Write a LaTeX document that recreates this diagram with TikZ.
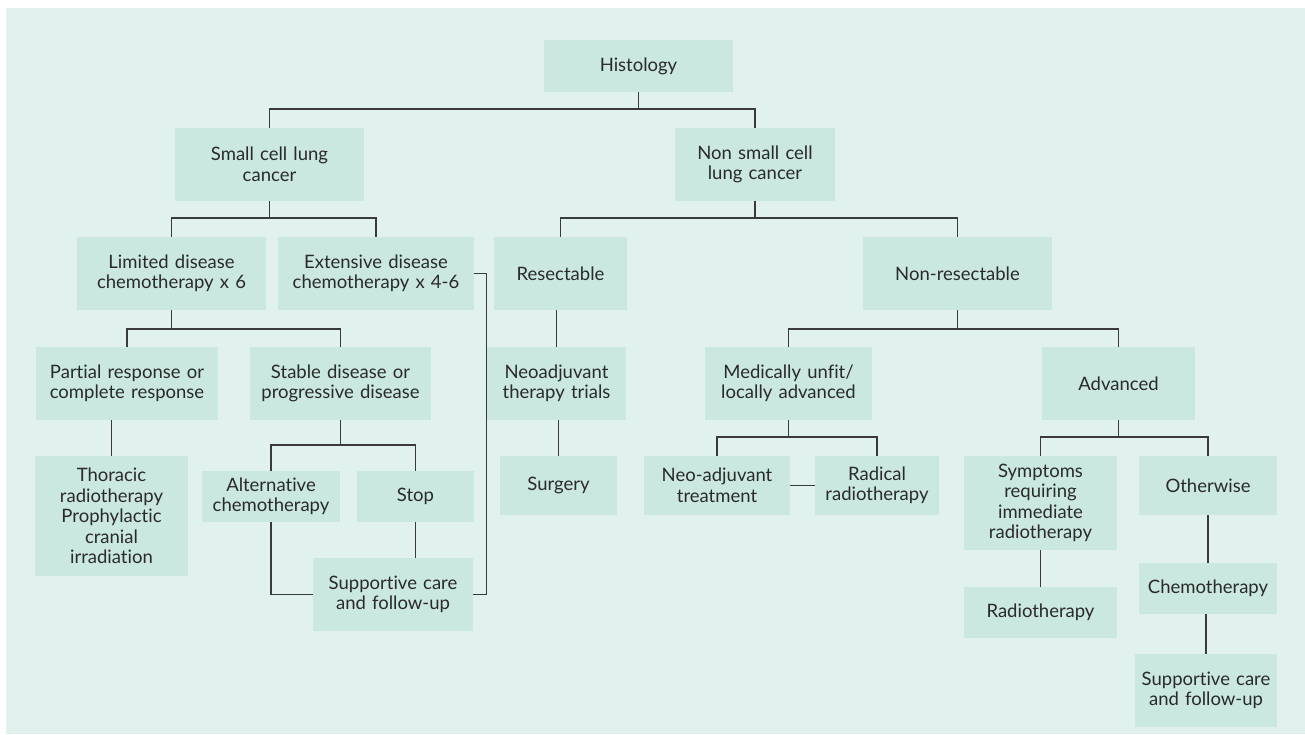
\documentclass[tikz,border=0pt]{standalone}
\usepackage{fontspec}
\setmainfont{Lato}[Ligatures={NoCommon}]
\definecolor{bgc}{HTML}{E1F1ED}
\definecolor{boxc}{HTML}{CAE7E0}
\definecolor{linec}{HTML}{3A3A3A}
\definecolor{txtc}{HTML}{2A2A2A}
\tikzset{
  box/.style={fill=boxc, inner sep=0pt, align=center, text=txtc,
    font=\fontsize{18.5}{20.5}\selectfont},
  conn/.style={draw=linec, line width=1.1pt}
}
\newcommand{\bx}[7]{\node[box, minimum width=#4pt, minimum height=#5pt, text width=#4pt] (#1) at (#2,#3) {#6#7};}
\begin{document}
\begin{tikzpicture}[x=1pt,y=-1pt]
\useasboundingbox (0,0) rectangle (1305,734);
\fill[white] (0,0) rectangle (1305,734);
\fill[bgc] (6,8) rectangle (1305,734);
% nodes
\bx{hist}{638.5}{66}{189}{52}{Histology}{}
\bx{sclc}{269.5}{164.5}{189}{73}{Small cell lung\\cancer}{}
\bx{nsclc}{755}{164.5}{160}{73}{Non small cell\\lung cancer}{}
\bx{lim}{171.5}{273.5}{189}{73}{Limited disease\\chemotherapy x 6}{}
\bx{ext}{376}{273.5}{196}{73}{Extensive disease\\chemotherapy x 4-6}{}
\bx{res}{560.5}{273.5}{133}{73}{Resectable}{}
\bx{nres}{957.5}{273.5}{189}{73}{Non-resectable}{}
\bx{part}{127}{383.5}{182}{73}{Partial response or\\complete response}{}
\bx{stab}{340.5}{383.5}{181}{73}{Stable disease or\\progressive disease}{}
\bx{neo}{556.5}{383.5}{139}{73}{Neoadjuvant\\therapy trials}{}
\bx{med}{788.5}{383.5}{167}{73}{Medically unfit/\\locally advanced}{}
\bx{adv}{1118.5}{383.5}{153}{73}{Advanced}{}
\bx{thor}{111.5}{516}{153}{120}{Thoracic\\radiotherapy\\Prophylactic\\cranial\\irradiation}{}
\bx{alt}{271}{496.5}{138}{51}{Alternative\\chemotherapy}{}
\bx{stop}{415.5}{496.5}{117}{51}{Stop}{}
\bx{surg}{558.5}{485.5}{117}{59}{Surgery}{}
\bx{neoadj}{717}{485.5}{146}{59}{Neo-adjuvant\\treatment}{}
\bx{rad}{877}{485.5}{124}{59}{Radical\\radiotherapy}{}
\bx{symp}{1040.5}{503}{153}{94}{Symptoms\\requiring\\immediate\\radiotherapy}{}
\bx{oth}{1208}{485.5}{138}{59}{Otherwise}{}
\bx{sup1}{393}{594.5}{160}{73}{Supportive care\\and follow-up}{}
\bx{radio}{1040.5}{612.5}{153}{51}{Radiotherapy}{}
\bx{chemo}{1208}{588.5}{138}{51}{Chemotherapy}{}
\bx{sup2}{1206}{690.5}{142}{73}{Supportive care\\and follow-up}{}
% helper levels
\coordinate (l1) at (0,109);
\coordinate (l2) at (0,218);
\coordinate (l3) at (0,329);
\coordinate (l4a) at (0,445);
\coordinate (l4b) at (0,437);
% connectors
\draw[conn] (hist.south) -- (hist.south |- l1);
\draw[conn] (sclc.north) |- (l1 -| nsclc.north) -- (nsclc.north);
\draw[conn] (sclc.south) -- (sclc.south |- l2);
\draw[conn] (lim.north) |- (l2 -| ext.north) -- (ext.north);
\draw[conn] (nsclc.south) -- (nsclc.south |- l2);
\draw[conn] (res.north) |- (l2 -| nres.north) -- (nres.north);
\draw[conn] (lim.south) -- (lim.south |- l3);
\draw[conn] (part.north) |- (l3 -| stab.north) -- (stab.north);
\draw[conn] (nres.south) -- (nres.south |- l3);
\draw[conn] (med.north) |- (l3 -| adv.north) -- (adv.north);
\draw[conn] (neo.north) -- (neo.north |- res.south);
\draw[conn] (surg.north) -- (surg.north |- neo.south);
\draw[conn] (thor.north) -- (thor.north |- part.south);
\draw[conn] (stab.south) -- (stab.south |- l4a);
\draw[conn] (alt.north) |- (l4a -| stop.north) -- (stop.north);
\draw[conn] (med.south) -- (med.south |- l4b);
\draw[conn] (neoadj.north) |- (l4b -| rad.north) -- (rad.north);
\draw[conn] (adv.south) -- (adv.south |- l4b);
\draw[conn] (symp.north) |- (l4b -| oth.north) -- (oth.north);
\draw[conn] (neoadj.east) -- (rad.west);
\draw[conn] (radio.north) -- (radio.north |- symp.south);
\draw[conn] (chemo.north) -- (chemo.north |- oth.south);
\draw[conn] (sup2.north) -- (sup2.north |- chemo.south);
\draw[conn] (alt.south) |- (sup1.west);
\draw[conn] (stop.south) -- (stop.south |- sup1.north);
\draw[conn] (ext.east) -- ++(12,0) |- (sup1.east);
\end{tikzpicture}
\end{document}
